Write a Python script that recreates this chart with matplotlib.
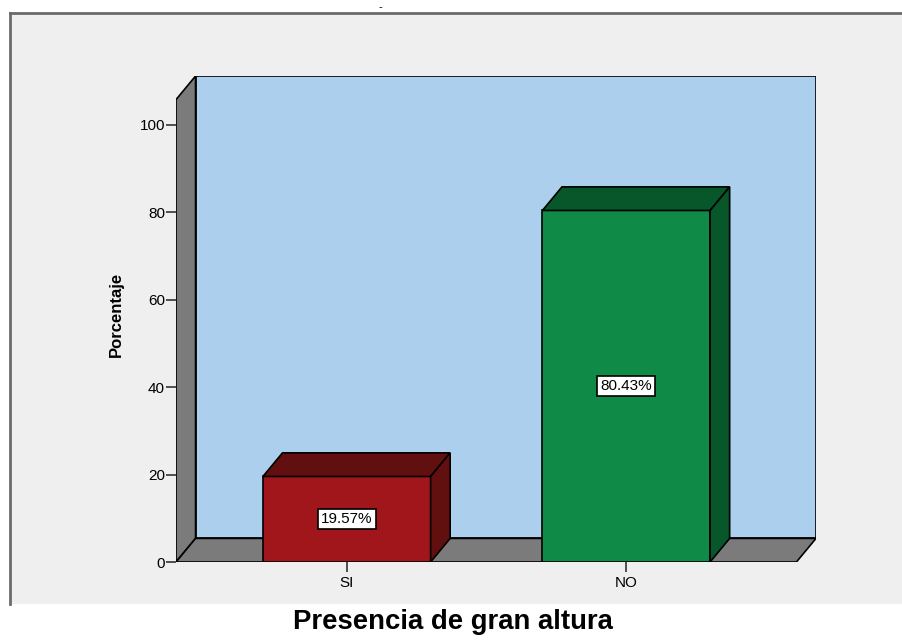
import matplotlib.pyplot as plt
from matplotlib.patches import Polygon, Rectangle
from matplotlib.lines import Line2D

# Datos
categorias = ['SI', 'NO']
porcentajes = [19.57, 80.43]
etiquetas = ['19.57%', '80.43%']
ticks_y = [0, 20, 40, 60, 80, 100]

colores_frente = ['#a0161b', '#108b47']
colores_lado = ['#620f10', '#07572b']

plt.rcParams['font.family'] = ['Liberation Sans', 'DejaVu Sans']

fig = plt.figure(figsize=(9.02, 6.4), dpi=100)
fig.patch.set_facecolor('white')

# Panel gris de fondo con borde a la izquierda y arriba
x_p0, y_p0, y_p1 = 10 / 902, 1 - 604 / 640, 1 - 13 / 640
fig.patches.append(Rectangle((x_p0, y_p0), 1 - x_p0, y_p1 - y_p0,
                             transform=fig.transFigure, facecolor='#efefef',
                             edgecolor='none', zorder=-10))
fig.lines.append(Line2D([x_p0, x_p0], [y_p0, y_p1], transform=fig.transFigure,
                        color='#6b6b6b', lw=2, zorder=-5))
fig.lines.append(Line2D([x_p0, 1], [y_p1, y_p1], transform=fig.transFigure,
                        color='#6b6b6b', lw=2, zorder=-5))
fig.text(380 / 902, 1 - 7 / 640, '-', fontsize=8, ha='center', va='center')

ax = fig.add_axes([176 / 902, 78 / 640, 640 / 902, 486 / 640])
ax.set_facecolor('none')
for s in ax.spines.values():
    s.set_visible(False)

x0, x1 = -0.611, 1.609   # borde frontal del piso
dx, dy = 0.07, 5.4       # profundidad 3D
H = 105.8                # altura de las paredes
ancho = 0.6

ax.set_xlim(x0, x1 + dx)
ax.set_ylim(0, H + dy)

# Pared del fondo
ax.add_patch(Polygon([(x0 + dx, dy), (x1 + dx, dy), (x1 + dx, H + dy), (x0 + dx, H + dy)],
                     closed=True, facecolor='#abcfec', edgecolor='black', lw=1.2, zorder=1))
# Pared izquierda
ax.add_patch(Polygon([(x0, 0), (x0 + dx, dy), (x0 + dx, H + dy), (x0, H)],
                     closed=True, facecolor='#7b7b7b', edgecolor='black', lw=1.2, zorder=2))
# Piso
ax.add_patch(Polygon([(x0, 0), (x1, 0), (x1 + dx, dy), (x0 + dx, dy)],
                     closed=True, facecolor='#7b7b7b', edgecolor='black', lw=1.2, zorder=2))

# Barras 3D
for i, v in enumerate(porcentajes):
    a, b = i - ancho / 2, i + ancho / 2
    ax.add_patch(Polygon([(a, 0), (b, 0), (b, v), (a, v)], closed=True,
                         facecolor=colores_frente[i], edgecolor='black', lw=1.2, zorder=3))
    ax.add_patch(Polygon([(a, v), (b, v), (b + dx, v + dy), (a + dx, v + dy)], closed=True,
                         facecolor=colores_lado[i], edgecolor='black', lw=1.2, zorder=3))
    ax.add_patch(Polygon([(b, 0), (b + dx, dy), (b + dx, v + dy), (b, v)], closed=True,
                         facecolor=colores_lado[i], edgecolor='black', lw=1.2, zorder=3))
    ax.text(i, v / 2, etiquetas[i], ha='center', va='center', fontsize=11, zorder=4,
            bbox=dict(boxstyle='square,pad=0.2', facecolor='white', edgecolor='black', lw=1.2))

ax.set_yticks(ticks_y)
ax.set_yticklabels([str(t) for t in ticks_y], fontsize=11)
ax.set_xticks(range(len(categorias)))
ax.set_xticklabels(categorias, fontsize=11)
ax.tick_params(axis='y', length=7, width=1.2, color='#333333', pad=1)
ax.tick_params(axis='x', length=7, width=1.2, color='#333333', pad=3)

ax.set_ylabel('Porcentaje', fontsize=12, fontweight='bold')
ax.yaxis.set_label_coords(-(176 - 124) / 640, (562 - 314) / 486)

fig.text(453 / 902, 1 - 622 / 640, 'Presencia de gran altura', fontsize=19.8,
         fontweight='bold', ha='center', va='center')

fig.savefig('out.png', dpi=100)
